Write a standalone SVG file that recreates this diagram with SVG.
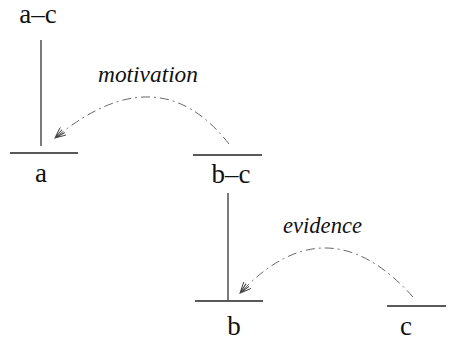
<svg xmlns="http://www.w3.org/2000/svg" width="449" height="343" viewBox="0 0 449 343">
<style>
.lbl{font-family:"Liberation Serif","Times New Roman",serif;font-size:27px;fill:#111;text-anchor:middle}
.rel{font-family:"Liberation Serif","Times New Roman",serif;font-size:24px;font-style:italic;fill:#111}
.bar{stroke:#222;stroke-width:1.3;fill:none}
.span{stroke:#222;stroke-width:1.2;fill:none}
.arc{stroke:#666;stroke-width:1;fill:none;stroke-dasharray:9 4 2 4}
</style>
<defs>
<marker id="arr" viewBox="0 0 12 10" refX="11" refY="5" markerWidth="12" markerHeight="10" markerUnits="userSpaceOnUse" orient="auto">
<path d="M0,0 L11,5 L0,10 M0,3 L11,5 L0,7" fill="none" stroke="#444" stroke-width="1"/>
</marker>
</defs>
<rect width="449" height="343" fill="#fff"/>
<g id="node-a-c">
<text class="lbl" x="38" y="23">a–c</text>
</g>
<g id="node-a">
<line class="bar" x1="10" y1="153" x2="78" y2="153"/>
<text class="lbl" x="41" y="182">a</text>
</g>
<g id="node-b-c">
<line class="bar" x1="193" y1="155" x2="262" y2="155"/>
<text class="lbl" x="231" y="183">b–c</text>
</g>
<g id="node-b">
<line class="bar" x1="195" y1="301" x2="263" y2="301"/>
<text class="lbl" x="234" y="335">b</text>
</g>
<g id="node-c">
<line class="bar" x1="387" y1="306" x2="446" y2="306"/>
<text class="lbl" x="406" y="335">c</text>
</g>
<g id="connectors">
<line class="span" x1="41" y1="40" x2="41" y2="146"/>
<line class="span" x1="228" y1="193" x2="228" y2="300"/>
<path class="arc" d="M229,144 Q158,53 55,138" marker-end="url(#arr)"/>
<path class="arc" d="M413,297 Q327,201 240,293" marker-end="url(#arr)"/>
<text class="rel" x="98" y="82" textLength="100" lengthAdjust="spacingAndGlyphs">motivation</text>
<text class="rel" x="283" y="233" textLength="79" lengthAdjust="spacingAndGlyphs">evidence</text>
</g>
</svg>
